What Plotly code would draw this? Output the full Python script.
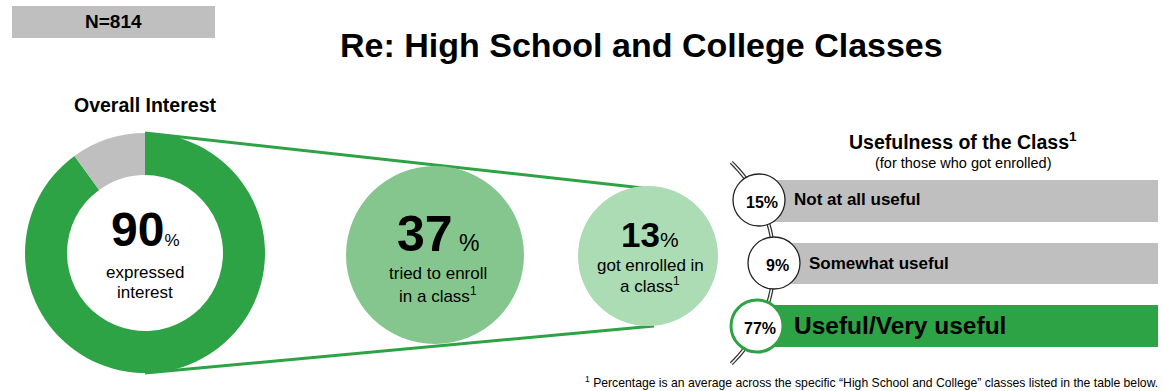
import plotly.graph_objects as go
import math

# ---- data ----
n_label = "N=814"
title_text = "Re: High School and College Classes"
interest_labels = ["Expressed interest", "No interest"]
interest_values = [90, 10]
funnel_values = [37, 13]
funnel_line1 = ["tried to enroll", "got enrolled in"]
funnel_line2 = ["in a class<sup>1</sup>", "a class<sup>1</sup>"]
useful_labels = ["Not at all useful", "Somewhat useful", "Useful/Very useful"]
useful_values = [15, 9, 77]

GREEN = "#2ea345"
GRAY = "#bfbfbf"
FONT = "Liberation Sans, Arial, sans-serif"
W, H = 1163, 391

fig = go.Figure()

# donut
fig.add_trace(go.Pie(
    labels=interest_labels, values=interest_values, hole=0.65, sort=False,
    direction="clockwise", rotation=0,
    marker=dict(colors=[GREEN, GRAY], line=dict(width=0)),
    textinfo="none", hoverinfo="label+percent", showlegend=False,
    domain=dict(x=[25 / W, 265 / W], y=[(H - 373) / H, (H - 133) / H]),
))

# invisible scatter to keep axes active
fig.add_trace(go.Scatter(x=[0, W], y=[0, H], mode="markers",
                         marker=dict(opacity=0), showlegend=False, hoverinfo="skip"))

shapes = []
# N box
shapes.append(dict(type="rect", x0=12, x1=215, y0=6, y1=38, fillcolor=GRAY, line=dict(width=0)))
# funnel lines
shapes.append(dict(type="line", x0=145, y0=133, x1=643, y1=188, line=dict(color=GREEN, width=3)))
shapes.append(dict(type="line", x0=145, y0=373, x1=654, y1=326, line=dict(color=GREEN, width=3)))
# funnel circles
circ = [(435, 255, 89, "#84c68d"), (648, 256, 70, "#acdcb4")]
for cx, cy, r, col in circ:
    shapes.append(dict(type="circle", x0=cx - r, x1=cx + r, y0=cy - r, y1=cy + r,
                       fillcolor=col, line=dict(width=0)))

# usefulness bars
bar_rows = [(180, 222), (243, 284), (305, 347)]
bar_cols = [GRAY, GRAY, GREEN]
for (y0, y1), col in zip(bar_rows, bar_cols):
    shapes.append(dict(type="rect", x0=773, x1=1158, y0=y0, y1=y1, fillcolor=col, line=dict(width=0)))

# double-line arc (center 634,263 radius 140)
acx, acy, R = 634, 263, 140
a0, a1 = math.radians(-46), math.radians(46)
pts = []
steps = 40
for i in range(steps + 1):
    a = a0 + (a1 - a0) * i / steps
    pts.append((acx + R * math.cos(a), acy + R * math.sin(a)))
path = "M " + " L ".join(f"{x:.1f},{y:.1f}" for x, y in pts)
shapes.append(dict(type="path", path=path, line=dict(color="#333333", width=4)))
shapes.append(dict(type="path", path=path, line=dict(color="white", width=1.5)))

# percent circles
pc = [(759, 200, "#222222"), (774, 263, "#222222"), (757, 326, GREEN)]
for (cx, cy, lc) in pc:
    r = 26
    shapes.append(dict(type="circle", x0=cx - r, x1=cx + r, y0=cy - r, y1=cy + r,
                       fillcolor="white", line=dict(color=lc, width=1.3 if lc != GREEN else 3)))

ann = []
def A(x, y, text, size, bold=False, xanchor="center", color="black"):
    t = f"<b>{text}</b>" if bold else text
    ann.append(dict(x=x, y=y, xref="x", yref="y", text=t, showarrow=False,
                    xanchor=xanchor, yanchor="middle",
                    font=dict(family=FONT, size=size, color=color)))

A(113, 21, n_label, 19, bold=True)
A(641, 45, title_text, 34, bold=True)
A(145, 105, "Overall Interest", 19.5, bold=True)

A(145, 229, f"<b>{interest_values[0]}</b><span style='font-size:17px'>%</span>", 48)
A(145, 272, "expressed", 17)
A(145, 292, "interest", 17)

A(438, 234, f"<b>{funnel_values[0]}</b><span style='font-size:23px'> %</span>", 50)
A(438, 273, funnel_line1[0], 17)
A(438, 295, funnel_line2[0], 17)
A(650, 234, f"<b>{funnel_values[1]}</b><span style='font-size:21px'>%</span>", 35)
A(650, 265, funnel_line1[1], 17)
A(650, 285, funnel_line2[1], 17)

A(963, 141, "Usefulness of the Class<sup>1</sup>", 19.5, bold=True)
A(963, 163, "(for those who got enrolled)", 14.5)

for (cx, cy, _), v in zip(pc, useful_values):
    A(cx + 3, cy + 2, f"{v}%", 16, bold=True)
A(792, 199, useful_labels[0], 17, bold=True, xanchor="left")
A(807, 263, useful_labels[1], 17, bold=True, xanchor="left")
A(792, 325, useful_labels[2], 24.5, bold=True, xanchor="left")

A(1160, 382, "<sup>1</sup> Percentage is an average across the specific \u201cHigh School and College\u201d classes listed in the table below.",
  12.2, xanchor="right")

fig.update_layout(
    width=W, height=H, margin=dict(l=0, r=0, t=0, b=0),
    paper_bgcolor="white", plot_bgcolor="white",
    xaxis=dict(range=[0, W], visible=False, domain=[0, 1], fixedrange=True),
    yaxis=dict(range=[H, 0], visible=False, domain=[0, 1], fixedrange=True),
    shapes=shapes, annotations=ann, showlegend=False,
    font=dict(family=FONT),
)
fig.write_html("out.html")
